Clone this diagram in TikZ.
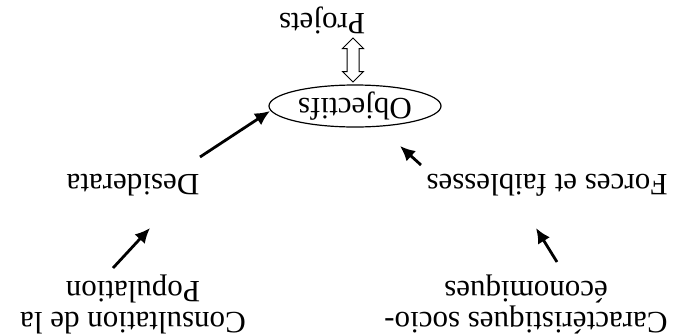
\documentclass[tikz,border=0pt]{standalone}
\usepackage{fontspec}
\setmainfont{Liberation Serif}
\usetikzlibrary{arrows.meta,shapes.geometric,shapes.arrows,calc}
\begin{document}
\begin{tikzpicture}[x=1pt,y=-1pt,
  lbl/.style={rotate=180,font=\fontsize{31}{31}\selectfont,align=center,inner sep=0pt},
  arr/.style={-{Latex[length=15pt,width=14pt]},line width=2.8pt},
  dblarrow/.style={draw,double arrow,line width=1pt,rotate=90,minimum height=44pt,minimum width=20pt,inner sep=5.5pt,double arrow head extend=4.5pt,double arrow head indent=0pt}
]
\useasboundingbox (0,0) rectangle (677,335);
\node[lbl] (proj) at (322,20) {Projets};
\node[dblarrow] (dbl) at (353,60) {};
\node[lbl,draw,ellipse,line width=1.2pt,minimum width=172pt,minimum height=42pt] (obj) at (355,106) {Objectifs};
\node[lbl] (desid) at (133,185) {Desiderata};
\node[lbl] (forces) at (547,185) {Forces et faiblesses};
\node[lbl] (cons) at (133,304) {Consultation de la\\Population};
\node[lbl] (car) at (526,304) {Caractéristiques socio-\\économiques};
\draw[arr] ($(desid)+(67,-28)$) -- ($(obj)+(-85,5)$);
\draw[arr] ($(forces)+(-126,-20)$) -- ($(obj)+(45,40)$);
\draw[arr] ($(cons)+(-20,-36)$) -- ($(desid)+(17,43)$);
\draw[arr] ($(car)+(31,-42)$) -- ($(forces)+(-11,43)$);
\end{tikzpicture}
\end{document}
